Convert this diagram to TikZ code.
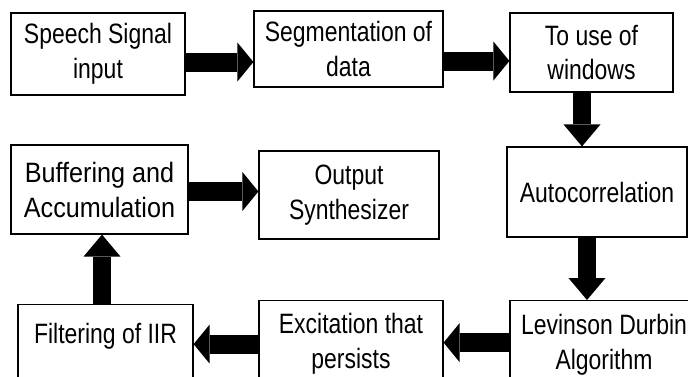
\documentclass[tikz,border=0pt]{standalone}
\usepackage{tikz}
\usepackage{fontspec}
\newfontfamily\boxfont{Liberation Sans}[FakeStretch=0.82]
\newfontfamily\widefont{Liberation Sans}[FakeStretch=0.9]
\usetikzlibrary{arrows.meta}
\usetikzlibrary{calc}

\begin{document}
\begin{tikzpicture}[x=1pt,y=-1pt,
                box/.style={draw, line width=1.2pt, align=center, inner sep=2pt,
                            font=\boxfont\fontsize{28}{35}\selectfont},
                hblk/.style={line width=19pt, -{Triangle[length=16pt,width=39pt,line width=0pt]}},
                vblk/.style={line width=18pt, -{Triangle[length=22pt,width=37pt,line width=0pt]}}]
                \path[use as bounding box] (0,0) rectangle (688,376);
                \clip (0,0) rectangle (688,376);
                \node[box, minimum width=174pt, minimum height=82pt] (speech) at (98,54) {Speech Signal\\input};
                \node[box, minimum width=189pt, minimum height=76pt] (seg) at (348.5,49) {Segmentation of\\data};
                \node[box, minimum width=163pt, minimum height=79pt] (win) at (591.5,52.5) {To use of\\windows};
                \node[box, minimum width=180pt, minimum height=90pt] (auto) at (597,192) {Autocorrelation};
                \node[box, anchor=north, minimum width=188pt, minimum height=88pt] (lev) at (604,300) {Levinson Durbin\\Algorithm};
                \node[box, anchor=north, minimum width=184pt, minimum height=87pt] (exc) at (351,300) {Excitation that\\persists};
                \node[box, anchor=north, minimum width=175pt, minimum height=88pt, text depth=30pt] (filt) at (105.5,304) {Filtering of IIR};
                \node[box, font=\widefont\fontsize{28}{35}\selectfont, minimum width=177pt, minimum height=89pt] (buf) at (99.5,189.5) {Buffering and\\Accumulation};
                \node[box, minimum width=180pt, minimum height=88pt] (out) at (349,195) {Output\\Synthesizer};
                \draw[hblk] ([yshift=-8pt]speech.east) -- ([yshift=-8pt]speech.east -| seg.west);
                \draw[hblk] ([yshift=-12pt]seg.east) -- ([yshift=-12pt]seg.east -| win.west);
                \draw[vblk] ([xshift=-9.5pt]win.south) -- ([xshift=-9.5pt]win.south |- auto.north);
                \draw[vblk] ([xshift=-10pt]auto.south) -- ([xshift=-10pt]auto.south |- lev.north);
                \draw[hblk] ([yshift=2pt]lev.west) -- ([yshift=2pt]lev.west -| exc.east);
                \draw[hblk] (exc.west) -- (exc.west -| filt.east);
                \draw[vblk] ([xshift=-3.5pt]filt.north) -- ([xshift=-3.5pt]filt.north |- buf.south);
                \draw[hblk] ([yshift=-2pt]buf.east) -- ([yshift=-2pt]buf.east -| out.west);
            \end{tikzpicture}
\end{document}
